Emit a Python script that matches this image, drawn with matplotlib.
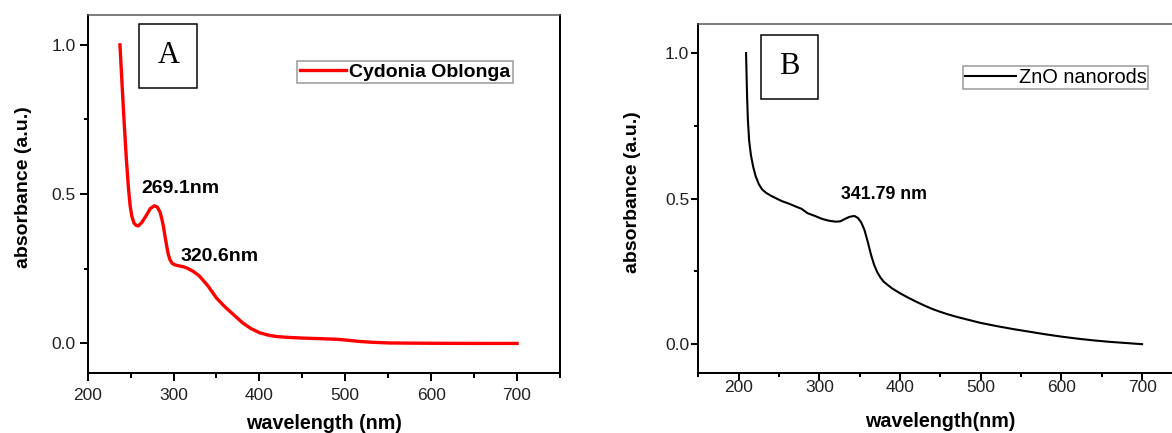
import numpy as np
import matplotlib
matplotlib.use("Agg")
import matplotlib.pyplot as plt
from matplotlib.patches import Rectangle
from matplotlib.ticker import MultipleLocator

plt.rcParams["font.family"] = ["Liberation Sans", "DejaVu Sans"]

# panel A: Cydonia Oblonga extract
wl_a = [237.6, 240.0, 242.5, 245.0, 247.5, 249.5, 251.5, 254.0, 256.5, 259.0,
        263.0, 268.8, 273.0, 277.6, 281.0, 284.3, 286.5, 288.2, 290.0, 292.1,
        294.0, 295.9, 298.5, 301.7, 306.0, 311.4, 316.0, 323.1, 330.0, 340.0,
        350.0, 360.0, 370.0, 380.0, 390.0, 400.0, 410.0, 420.0, 435.0, 450.0,
        470.0, 490.0, 502.0, 515.0, 530.0, 552.0, 600.0, 650.0, 700.0]
abs_a = [1.000, 0.870, 0.740, 0.620, 0.520, 0.460, 0.425, 0.403, 0.395, 0.394,
         0.405, 0.431, 0.452, 0.461, 0.457, 0.440, 0.415, 0.392, 0.360, 0.325,
         0.297, 0.280, 0.268, 0.263, 0.260, 0.257, 0.252, 0.241, 0.226, 0.193,
         0.152, 0.122, 0.096, 0.070, 0.050, 0.036, 0.028, 0.023, 0.020, 0.018,
         0.016, 0.014, 0.011, 0.007, 0.004, 0.0015, 0.0005, 0.000, 0.000]

# panel B: ZnO nanorods
wl_b = [209.2, 210.5, 211.5, 213.0, 215.2, 218.0, 221.0, 225.0, 229.0, 234.0,
        240.0, 253.1, 263.0, 271.6, 278.0, 285.4, 295.0, 303.9, 312.0, 320.0,
        326.0, 331.6, 337.0, 341.8, 344.0, 348.0, 352.0, 356.0, 360.0, 364.0,
        368.0, 372.0, 376.0, 380.0, 390.0, 400.0, 410.0, 420.0, 430.0, 440.0,
        450.0, 460.0, 470.0, 480.0, 490.0, 500.0, 520.0, 540.0, 560.0, 580.0,
        600.0, 620.0, 640.0, 660.0, 680.0, 700.0]
abs_b = [1.000, 0.850, 0.770, 0.700, 0.650, 0.610, 0.578, 0.550, 0.532, 0.520,
         0.510, 0.492, 0.482, 0.472, 0.465, 0.450, 0.440, 0.430, 0.424, 0.421,
         0.422, 0.430, 0.437, 0.440, 0.440, 0.433, 0.418, 0.392, 0.352, 0.308,
         0.272, 0.246, 0.228, 0.214, 0.192, 0.175, 0.160, 0.146, 0.133, 0.121,
         0.111, 0.102, 0.094, 0.087, 0.080, 0.073, 0.062, 0.052, 0.043, 0.034,
         0.026, 0.019, 0.013, 0.008, 0.004, 0.000]

peaks_a = [(262.9, 0.520, "269.1nm"), (308.7, 0.291, "320.6nm")]
peaks_b = [(326.9, 0.513, "341.79 nm")]

PX = 1 / 100 * 72  # pixels -> points at dpi 100

fig = plt.figure(figsize=(11.72, 4.33), dpi=100)
ax1 = fig.add_axes([0.0748, 0.1379, 0.4030, 0.8275])
ax2 = fig.add_axes([0.5958, 0.1379, 0.4131, 0.8067])


def style(ax, xmin, maj, mnr, xpad, ypad):
    ax.set_xlim(xmin, 750)
    ax.set_ylim(-0.1, 1.1)
    ax.set_xticks([200, 300, 400, 500, 600, 700])
    ax.set_yticks([0.0, 0.5, 1.0])
    ax.xaxis.set_minor_locator(MultipleLocator(50))
    ax.yaxis.set_minor_locator(MultipleLocator(0.25))
    ax.tick_params(which="both", direction="out", top=False, right=False,
                   width=2 * PX, labelsize=12.5, labelcolor="#222222")
    ax.tick_params(which="major", length=maj * PX)
    ax.tick_params(which="minor", length=mnr * PX)
    ax.tick_params(axis="x", pad=xpad * PX)
    ax.tick_params(axis="y", pad=ypad * PX)
    for s in ("left", "bottom", "right"):
        ax.spines[s].set_linewidth(2 * PX)
    ax.spines["top"].set_linewidth(1.5 * PX)
    ax.spines["top"].set_color("#555555")


style(ax1, 200, 8, 4.5, 7, 4)
style(ax2, 150, 7, 4, 0, 2)

ax1.plot(wl_a, abs_a, color="#ff0000", lw=2.4, label="Cydonia Oblonga")
ax2.plot(wl_b, abs_b, color="black", lw=1.5, label="ZnO nanorods")

for x, y, t in peaks_a:
    ax1.text(x, y, t, fontsize=14, fontweight="bold", ha="left", va="center")
for x, y, t in peaks_b:
    ax2.text(x, y, t, fontsize=12.8, fontweight="bold", ha="left", va="center")

ax1.set_xlabel("wavelength (nm)", fontsize=14.2, fontweight="bold")
ax2.set_xlabel("wavelength(nm)", fontsize=14.2, fontweight="bold")
ax1.set_ylabel("absorbance (a.u.)", fontsize=14, fontweight="bold")
ax2.set_ylabel("absorbance (a.u.)", fontsize=14, fontweight="bold")
for ax, xl, yl in ((ax1, -0.1395, (-0.136, 0.52)), (ax2, -0.1386, (-0.135, 0.52))):
    ax.xaxis.set_label_coords(0.5, xl)
    ax.xaxis.label.set_va("center")
    ax.yaxis.set_label_coords(*yl)
    ax.yaxis.label.set_va("center")

# panel letters in framed boxes
for ax, (x0, y0, w, h), letter in ((ax1, (0.1093, 0.7971, 0.1228, 0.1778), "A"),
                                   (ax2, (0.1289, 0.7853, 0.1190, 0.1832), "B")):
    ax.add_patch(Rectangle((x0, y0), w, h, transform=ax.transAxes, fill=False,
                           ec="black", lw=1.5 * PX))
    ax.text(x0 + w / 2, y0 + h / 2, letter, transform=ax.transAxes,
            family=["Liberation Serif", "DejaVu Serif"], fontsize=22,
            ha="center", va="center")

leg1 = ax1.legend(loc="upper left", bbox_to_anchor=(0.4438, 0.8725),
                  prop=dict(size=14, weight="bold"), handlelength=2.4,
                  handletextpad=0.15, borderpad=0.12, borderaxespad=0,
                  fancybox=False, framealpha=1)
leg1.get_frame().set_edgecolor("#999999")
leg1.get_frame().set_linewidth(1.5 * PX)
leg2 = ax2.legend(loc="upper left", bbox_to_anchor=(0.5459, 0.8798),
                  prop=dict(size=14.4), handlelength=2.55,
                  handletextpad=0.15, borderpad=0.1, borderaxespad=0,
                  fancybox=False, framealpha=1)
leg2.get_frame().set_edgecolor("#999999")
leg2.get_frame().set_linewidth(1.5 * PX)

fig.savefig("out.png", dpi=100)
